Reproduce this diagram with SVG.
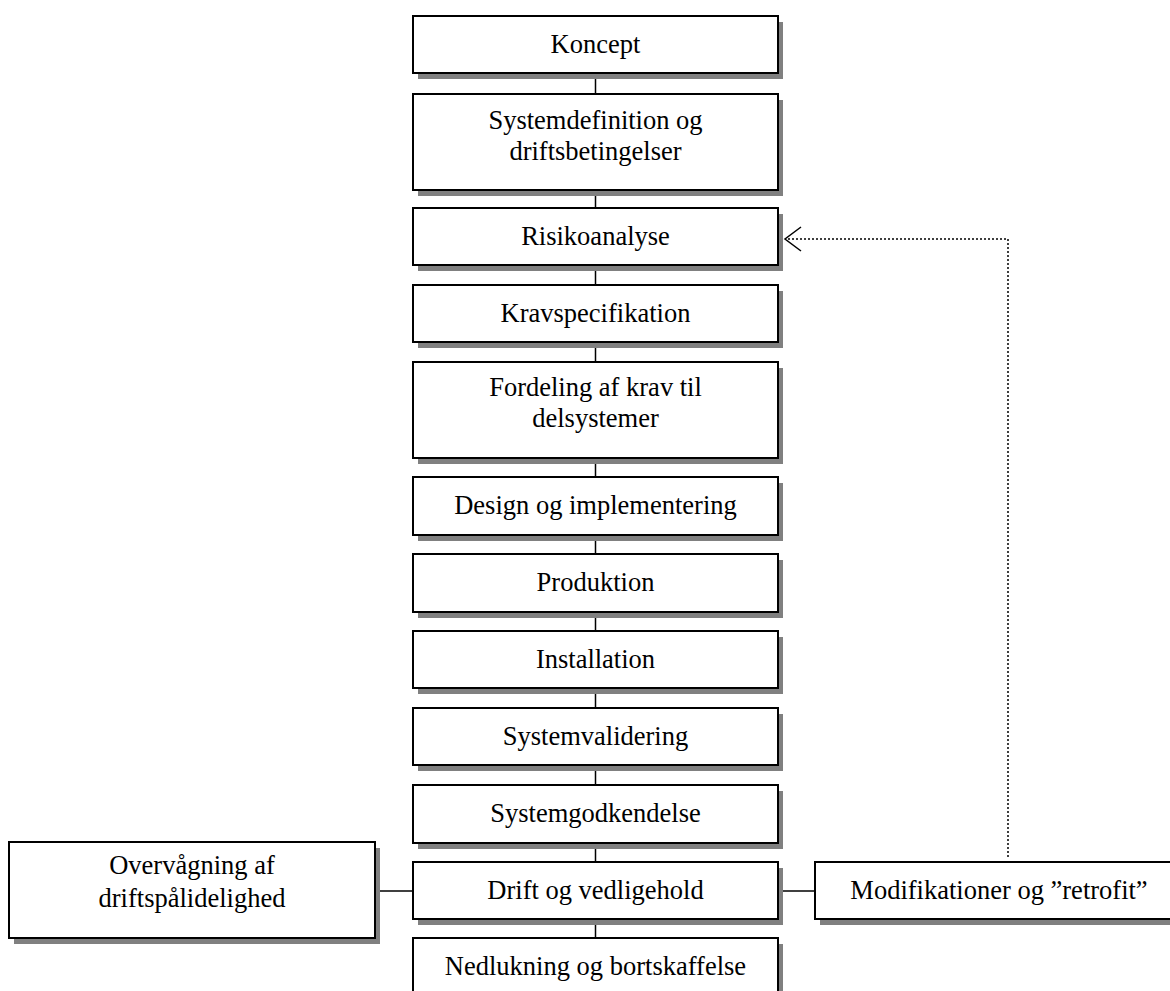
<svg xmlns="http://www.w3.org/2000/svg" width="1170" height="991" viewBox="0 0 1170 991">
<style>
.box{fill:#fff;stroke:#000;stroke-width:2}
.sh{fill:#808080}
.t{font-family:"Liberation Serif","Times New Roman",serif;font-size:26.5px;fill:#000;text-anchor:middle}
.c{stroke:#000;stroke-width:1.5;fill:none}
.d{stroke:#000;stroke-width:1.5;fill:none;stroke-dasharray:2,2}
</style>
<defs>
<marker id="open" markerWidth="20" markerHeight="28" refX="17" refY="13" orient="auto" markerUnits="userSpaceOnUse">
<path d="M1,1 L17,13 L1,25" fill="none" stroke="#000" stroke-width="1.5"/>
</marker>
</defs>
<rect width="1170" height="991" fill="#fff"/>
<g id="connectors">
<line class="c" x1="595.5" y1="73" x2="595.5" y2="938"/>
<line class="c" x1="375" y1="891" x2="413" y2="891"/>
<line class="c" x1="778" y1="891" x2="815" y2="891"/>
<path class="d" d="M1008,857 L1008,239 L785,239" marker-end="url(#open)"/>
</g>
<g id="n1"><rect class="sh" x="418" y="22" width="365" height="57"/><rect class="box" x="413" y="16" width="365" height="57"/><text class="t" x="595.5" y="53">Koncept</text></g>
<g id="n2"><rect class="sh" x="418" y="100" width="365" height="96"/><rect class="box" x="413" y="94" width="365" height="96"/><text class="t" x="595.5" y="129">Systemdefinition og</text><text class="t" x="595.5" y="160">driftsbetingelser</text></g>
<g id="n3"><rect class="sh" x="418" y="214" width="365" height="57"/><rect class="box" x="413" y="208" width="365" height="57"/><text class="t" x="595.5" y="245">Risikoanalyse</text></g>
<g id="n4"><rect class="sh" x="418" y="291" width="365" height="57"/><rect class="box" x="413" y="285" width="365" height="57"/><text class="t" x="595.5" y="322">Kravspecifikation</text></g>
<g id="n5"><rect class="sh" x="418" y="368" width="365" height="96"/><rect class="box" x="413" y="362" width="365" height="96"/><text class="t" x="595.5" y="396">Fordeling af krav til</text><text class="t" x="595.5" y="427">delsystemer</text></g>
<g id="n6"><rect class="sh" x="418" y="483" width="365" height="58"/><rect class="box" x="413" y="477" width="365" height="58"/><text class="t" x="595.5" y="514">Design og implementering</text></g>
<g id="n7"><rect class="sh" x="418" y="560" width="365" height="58"/><rect class="box" x="413" y="554" width="365" height="58"/><text class="t" x="595.5" y="591">Produktion</text></g>
<g id="n8"><rect class="sh" x="418" y="637" width="365" height="57"/><rect class="box" x="413" y="631" width="365" height="57"/><text class="t" x="595.5" y="668">Installation</text></g>
<g id="n9"><rect class="sh" x="418" y="714" width="365" height="57"/><rect class="box" x="413" y="708" width="365" height="57"/><text class="t" x="595.5" y="745">Systemvalidering</text></g>
<g id="n10"><rect class="sh" x="418" y="791" width="365" height="58"/><rect class="box" x="413" y="785" width="365" height="58"/><text class="t" x="595.5" y="822">Systemgodkendelse</text></g>
<g id="n11"><rect class="sh" x="418" y="868" width="365" height="57"/><rect class="box" x="413" y="862" width="365" height="57"/><text class="t" x="595.5" y="899">Drift og vedligehold</text></g>
<g id="n12"><rect class="sh" x="418" y="944" width="365" height="58"/><rect class="box" x="413" y="938" width="365" height="58"/><text class="t" x="595.5" y="975">Nedlukning og bortskaffelse</text></g>
<g id="n13"><rect class="sh" x="14" y="848" width="366" height="96"/><rect class="box" x="9" y="842" width="366" height="96"/><text class="t" x="192" y="874">Overvågning af</text><text class="t" x="192" y="907">driftspålidelighed</text></g>
<g id="n14"><rect class="sh" x="820" y="868" width="368" height="57"/><rect class="box" x="815" y="862" width="368" height="57"/><text class="t" x="999" y="899">Modifikationer og ”retrofit”</text></g>
</svg>
